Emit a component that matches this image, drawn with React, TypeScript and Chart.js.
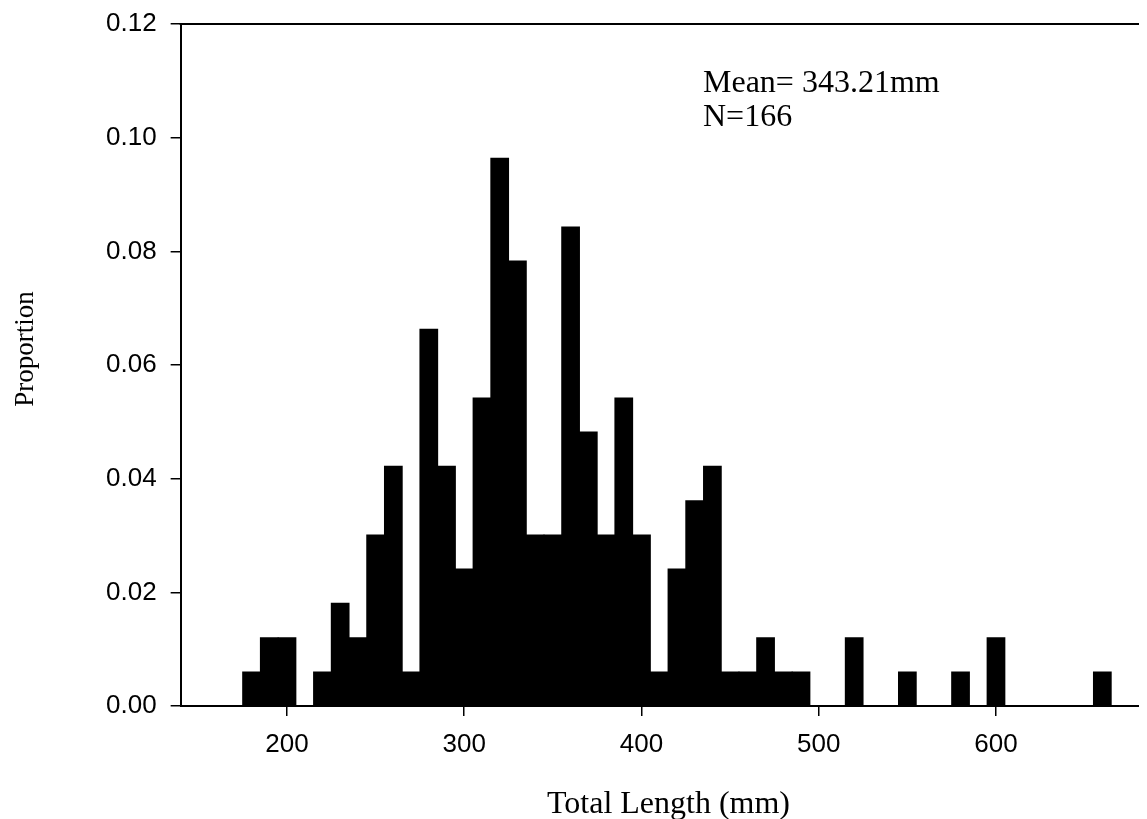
import React, { useEffect, useRef } from "react";
import { Chart, registerables } from "chart.js";

Chart.register(...registerables);

// Bin centres (10 mm bins) of total length, mm
const binCenters = [
  180, 190, 200, 210, 220, 230, 240, 250, 260, 270,
  280, 290, 300, 310, 320, 330, 340, 350, 360, 370,
  380, 390, 400, 410, 420, 430, 440, 450, 460, 470,
  480, 490, 500, 510, 520, 530, 540, 550, 560, 570,
  580, 590, 600, 610, 620, 630, 640, 650, 660,
];

// Proportion of fish in each bin
const proportions = [
  0.0060, 0.0120, 0.0120, 0.0, 0.0060, 0.0181, 0.0120, 0.0301, 0.0422, 0.0060,
  0.0663, 0.0422, 0.0241, 0.0542, 0.0964, 0.0783, 0.0301, 0.0301, 0.0843, 0.0482,
  0.0301, 0.0542, 0.0301, 0.0060, 0.0241, 0.0361, 0.0422, 0.0060, 0.0060, 0.0120,
  0.0060, 0.0060, 0.0, 0.0, 0.0120, 0.0, 0.0, 0.0060, 0.0, 0.0,
  0.0060, 0.0, 0.0120, 0.0, 0.0, 0.0, 0.0, 0.0, 0.0060,
];

const xTicks = [200, 300, 400, 500, 600];
const yTicks = [0, 0.02, 0.04, 0.06, 0.08, 0.1, 0.12];

const xTitle = "Total Length (mm)";
const yTitle = "Proportion";
const noteLines = ["Mean= 343.21mm", "N=166"];

const SANS = "'Liberation Sans', Arial, sans-serif";
const SERIF = "'Liberation Serif', 'Times New Roman', serif";

const decorPlugin = {
  id: "decor",
  afterDraw(chart: any) {
    const { ctx, chartArea } = chart;
    ctx.save();
    // top frame line
    ctx.strokeStyle = "#000";
    ctx.lineWidth = 2;
    ctx.beginPath();
    ctx.moveTo(chartArea.left - 1, Math.round(chartArea.top));
    ctx.lineTo(chartArea.right, Math.round(chartArea.top));
    ctx.stroke();

    ctx.fillStyle = "#000";
    // annotation
    ctx.font = `32px ${SERIF}`;
    ctx.textAlign = "left";
    ctx.textBaseline = "alphabetic";
    ctx.fillText(noteLines[0], 695, 84);
    ctx.fillText(noteLines[1], 695, 118);

    // x title
    ctx.font = `32px ${SERIF}`;
    ctx.textAlign = "center";
    ctx.fillText(xTitle, 660.5, 805);

    // y title
    ctx.font = `27px ${SERIF}`;
    ctx.translate(25.3, 341);
    ctx.rotate(-Math.PI / 2);
    ctx.textAlign = "center";
    ctx.fillText(yTitle, 0, 0);
    ctx.restore();
  },
};

export default function App() {
  const ref = useRef<HTMLCanvasElement | null>(null);

  useEffect(() => {
    if (!ref.current) return;
    const chart = new Chart(ref.current, {
      type: "bar",
      data: {
        datasets: [
          {
            data: binCenters.map((c, i) => ({ x: c, y: proportions[i] })),
            backgroundColor: "#000",
            borderWidth: 0,
            barPercentage: 1,
            categoryPercentage: 1,
            inflateAmount: 0.5,
          },
        ],
      },
      options: {
        responsive: false,
        animation: false,
        events: [],
        layout: { padding: 0 },
        plugins: {
          legend: { display: false },
          tooltip: { enabled: false },
          title: { display: false },
        },
        scales: {
          x: {
            type: "linear",
            min: 140,
            max: 685.2,
            offset: false,
            afterBuildTicks: (s: any) => {
              s.ticks = xTicks.map((v) => ({ value: v }));
            },
            afterFit: (s: any) => {
              s.height = 113;
              s.paddingLeft = 0;
              s.paddingRight = 0;
            },
            grid: {
              display: true,
              drawOnChartArea: false,
              drawTicks: true,
              tickLength: 10,
              color: "#000",
              lineWidth: 1.5,
              offset: false,
            },
            border: { display: true, color: "#000", width: 2 },
            ticks: {
              color: "#000",
              font: { family: SANS, size: 26 },
              padding: 13,
              maxRotation: 0,
              autoSkip: false,
              callback: (v: any) => String(v),
            },
          },
          y: {
            type: "linear",
            min: 0,
            max: 0.12,
            afterBuildTicks: (s: any) => {
              s.ticks = yTicks.map((v) => ({ value: v }));
            },
            afterFit: (s: any) => {
              s.width = 172.65;
              s.paddingTop = 16;
              s.paddingBottom = 0;
            },
            grid: {
              display: true,
              drawOnChartArea: false,
              drawTicks: true,
              tickLength: 10,
              color: "#000",
              lineWidth: 1.5,
            },
            border: { display: true, color: "#000", width: 2 },
            ticks: {
              color: "#000",
              font: { family: SANS, size: 26 },
              padding: 14,
              autoSkip: false,
              callback: (v: any) => Number(v).toFixed(2),
            },
          },
        },
      },
      plugins: [decorPlugin],
    });
    return () => chart.destroy();
  }, []);

  return (
    <div style={{ width: 1139, height: 811, overflow: "hidden" }}>
      <canvas ref={ref} width={1139} height={811} style={{ display: "block" }} />
    </div>
  );
}
